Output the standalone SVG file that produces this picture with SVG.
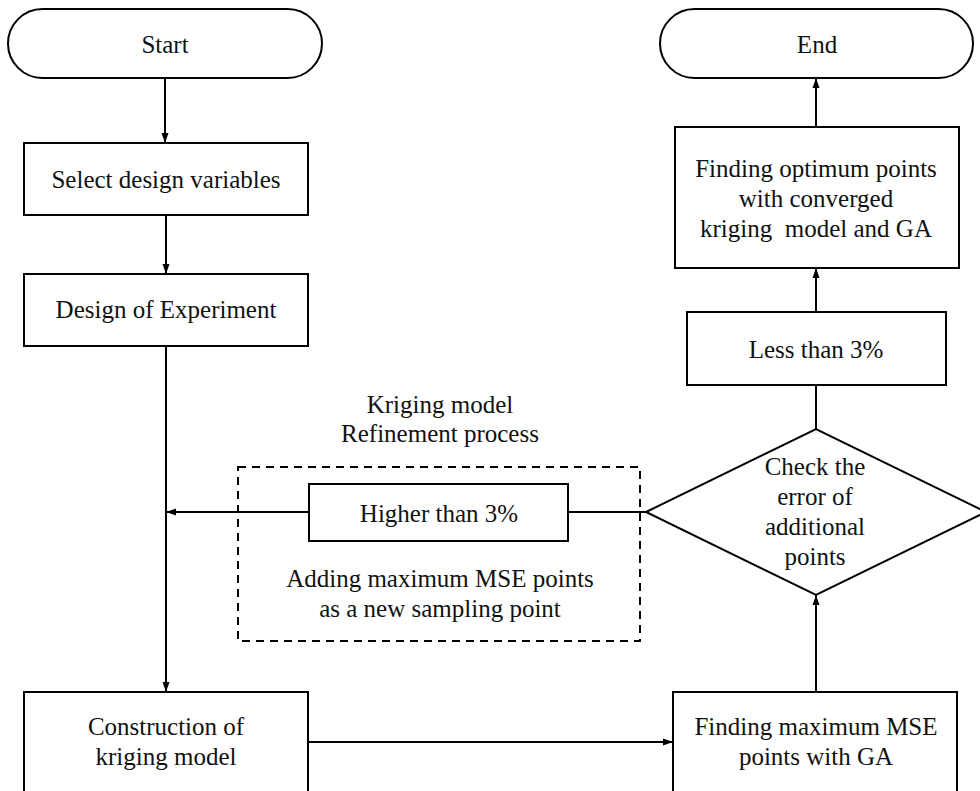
<svg xmlns="http://www.w3.org/2000/svg" width="980" height="791" viewBox="0 0 980 791">
<style>
.s{fill:#fff;stroke:#000;stroke-width:2}
.t{font-family:"Liberation Serif","Times New Roman",serif;font-size:25px;fill:#111;text-anchor:middle}
.c{fill:none;stroke:#000;stroke-width:2}
.d{fill:none;stroke:#000;stroke-width:2;stroke-dasharray:8,6}
</style>
<defs>
<marker id="ah" viewBox="0 0 10 10" refX="10" refY="5" markerWidth="10" markerHeight="10" markerUnits="userSpaceOnUse" orient="auto">
<path d="M0,1.5 L10,5 L0,8.5 Z" fill="#000"/>
</marker>
</defs>
<rect width="980" height="791" fill="#fff"/>
<g id="refinement">
<rect class="d" x="238" y="467" width="402" height="174"/>
<text class="t" x="440" y="413">Kriging model</text>
<text class="t" x="440" y="442">Refinement process</text>
<text class="t" x="440" y="587">Adding maximum MSE points</text>
<text class="t" x="440" y="617">as a new sampling point</text>
</g>
<g id="connectors">
<line class="c" x1="165" y1="78" x2="165" y2="143" marker-end="url(#ah)"/>
<line class="c" x1="166" y1="215" x2="166" y2="274" marker-end="url(#ah)"/>
<line class="c" x1="166" y1="346" x2="166" y2="692" marker-end="url(#ah)"/>
<line class="c" x1="308" y1="742" x2="673" y2="742" marker-end="url(#ah)"/>
<line class="c" x1="816" y1="692" x2="816" y2="595" marker-end="url(#ah)"/>
<line class="c" x1="816" y1="429" x2="816" y2="385"/>
<line class="c" x1="816" y1="312" x2="816" y2="268" marker-end="url(#ah)"/>
<line class="c" x1="816" y1="127" x2="816" y2="78" marker-end="url(#ah)"/>
<line class="c" x1="646" y1="512" x2="568" y2="512"/>
<line class="c" x1="309" y1="512" x2="166" y2="512" marker-end="url(#ah)"/>
</g>
<g id="start">
<rect class="s" x="8" y="9" width="314" height="69" rx="34.5" ry="34.5"/>
<text class="t" x="165" y="53">Start</text>
</g>
<g id="end">
<rect class="s" x="660" y="9" width="313" height="69" rx="34.5" ry="34.5"/>
<text class="t" x="817" y="53">End</text>
</g>
<g id="select">
<rect class="s" x="24" y="143" width="284" height="72"/>
<text class="t" x="166" y="188">Select design variables</text>
</g>
<g id="doe">
<rect class="s" x="24" y="274" width="284" height="72"/>
<text class="t" x="166" y="318">Design of Experiment</text>
</g>
<g id="construction">
<rect class="s" x="24" y="692" width="284" height="120"/>
<text class="t" x="166" y="735">Construction of</text>
<text class="t" x="166" y="765">kriging model</text>
</g>
<g id="findmax">
<rect class="s" x="673" y="692" width="284" height="120"/>
<text class="t" x="816" y="735">Finding maximum MSE</text>
<text class="t" x="816" y="765">points with GA</text>
</g>
<g id="check">
<polygon class="s" points="646,512 816,429 986,512 816,595"/>
<text class="t" x="815" y="475">Check the</text>
<text class="t" x="815" y="505">error of</text>
<text class="t" x="815" y="535">additional</text>
<text class="t" x="815" y="565">points</text>
</g>
<g id="higher">
<rect class="s" x="309" y="484" width="259" height="57"/>
<text class="t" x="439" y="522">Higher than 3%</text>
</g>
<g id="less">
<rect class="s" x="687" y="312" width="259" height="73"/>
<text class="t" x="816" y="358">Less than 3%</text>
</g>
<g id="optimum">
<rect class="s" x="675" y="127" width="284" height="141"/>
<text class="t" x="816" y="177">Finding optimum points</text>
<text class="t" x="816" y="207">with converged</text>
<text class="t" x="816" y="237" style="white-space:pre">kriging  model and GA</text>
</g>
</svg>
